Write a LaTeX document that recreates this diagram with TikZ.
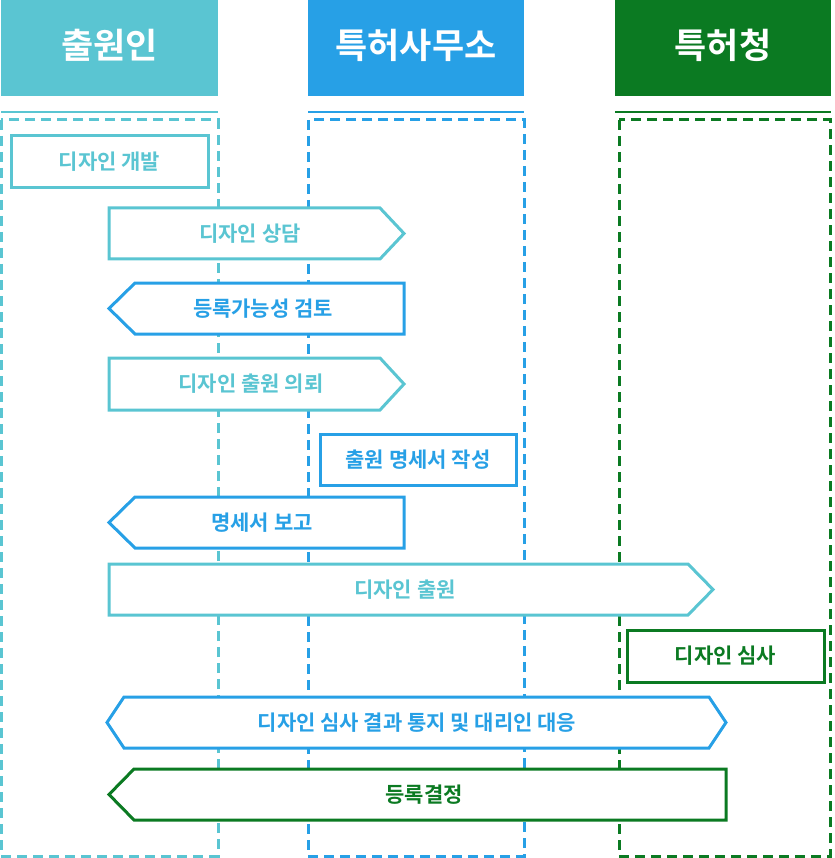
\documentclass[tikz,border=0pt]{standalone}
\usepackage{fontspec}
\setmainfont{Noto Sans CJK KR}[BoldFont={Noto Sans CJK KR Bold}]
\definecolor{cteal}{HTML}{5AC5D2}
\definecolor{cblue}{HTML}{27A0E6}
\definecolor{cgreen}{HTML}{0B7A22}
\tikzset{
  lane/.style={line width=3pt, dash pattern=on 10pt off 6pt},
  topline/.style={line width=2.8pt},
  boxline/.style={line width=3pt, fill=white},
  hdr/.style={text=white, font=\bfseries\fontsize{35}{35}\selectfont, inner sep=0pt},
  lbl/.style={font=\bfseries\fontsize{21}{21}\selectfont, inner sep=0pt},
}
\begin{document}
\begin{tikzpicture}[x=1pt,y=-1pt]
\useasboundingbox (0,0) rectangle (834,858);
% headers
\fill[cteal] (1,0) rectangle (218,96);
\fill[cblue] (308,0) rectangle (524,96);
\fill[cgreen] (615,0) rectangle (831,96);
\node[hdr] (h1) at (109.5,45) {출원인};
\node[hdr] (h2) at (416,45) {특허사무소};
\node[hdr] (h3) at (723,45) {특허청};
% top lines
\draw[topline,cteal] (1,112) -- (218,112);
\draw[topline,cblue] (308,112) -- (524,112);
\draw[topline,cgreen] (615,112) -- (831,112);
% lanes
\draw[lane,cteal] (1,120) rectangle (218,856);
\draw[lane,cblue] (308,120) rectangle (524,856);
\draw[lane,cgreen] (619,120) rectangle (830,856);
% 1 디자인 개발
\draw[draw=cteal,boxline] (11,136) rectangle (208,188);
\node[lbl,text=cteal] (b1) at (109.5,162) {디자인 개발};
% 2 디자인 상담
\draw[draw=cteal,boxline] (109,208) -- (380,208) -- (404,233.5) -- (380,259) -- (109,259) -- cycle;
\node[lbl,text=cteal] (b2) at (250,233.5) {디자인 상담};
% 3 등록가능성 검토
\draw[draw=cblue,boxline] (404,283) -- (135,283) -- (109,308.5) -- (135,334) -- (404,334) -- cycle;
\node[lbl,text=cblue] (b3) at (263,308.5) {등록가능성 검토};
% 4 디자인 출원 의뢰
\draw[draw=cteal,boxline] (109,358) -- (380,358) -- (404,384) -- (380,410) -- (109,410) -- cycle;
\node[lbl,text=cteal] (b4) at (251,384) {디자인 출원 의뢰};
% 5 출원 명세서 작성
\draw[draw=cblue,boxline] (320,434) rectangle (516,485);
\node[lbl,text=cblue] (b5) at (418,459.5) {출원 명세서 작성};
% 6 명세서 보고
\draw[draw=cblue,boxline] (404,497) -- (135,497) -- (109,522.5) -- (135,548) -- (404,548) -- cycle;
\node[lbl,text=cblue] (b6) at (262,522.5) {명세서 보고};
% 7 디자인 출원
\draw[draw=cteal,boxline] (109,564) -- (688,564) -- (713,589.5) -- (688,615) -- (109,615) -- cycle;
\node[lbl,text=cteal] (b7) at (405,589.5) {디자인 출원};
% 8 디자인 심사
\draw[draw=cgreen,boxline] (627,630) rectangle (824,682);
\node[lbl,text=cgreen] (b8) at (725.5,656) {디자인 심사};
% 9 결과 통지
\draw[draw=cblue,boxline] (124,697) -- (709,697) -- (726,722.5) -- (709,748) -- (124,748) -- (107,722.5) -- cycle;
\node[lbl,text=cblue] (b9) at (417,722.5) {디자인 심사 결과 통지 및 대리인 대응};
% 10 등록결정
\draw[draw=cgreen,boxline] (726,769) -- (134,769) -- (109,794.5) -- (134,820) -- (726,820) -- cycle;
\node[lbl,text=cgreen] (b10) at (424,794.5) {등록결정};
\end{tikzpicture}
\end{document}
